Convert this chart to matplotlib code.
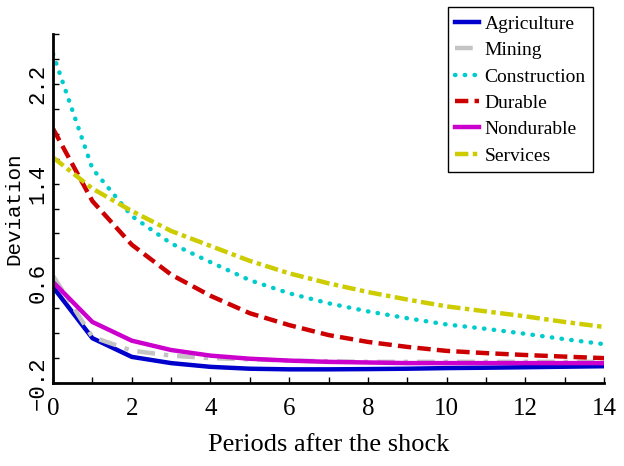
import numpy as np
import matplotlib
matplotlib.use('Agg')
import matplotlib.pyplot as plt
from matplotlib.ticker import MultipleLocator

# Impulse responses
periods = np.arange(15)
agriculture = [0.57, 0.16, 0.01, -0.04, -0.07, -0.085, -0.09, -0.09, -0.088, -0.085, -0.08, -0.077, -0.073, -0.069, -0.065]
mining = [0.66, 0.17, 0.06, 0.02, 0.0, -0.01, -0.02, -0.025, -0.03, -0.03, -0.03, -0.03, -0.03, -0.03, -0.03]
construction = [2.44, 1.52, 1.14, 0.92, 0.77, 0.625, 0.52, 0.44, 0.375, 0.32, 0.27, 0.235, 0.195, 0.152, 0.112]
durable = [1.84, 1.26, 0.91, 0.67, 0.50, 0.36, 0.265, 0.185, 0.13, 0.09, 0.058, 0.04, 0.025, 0.012, 0.0]
nondurable = [0.61, 0.29, 0.14, 0.065, 0.02, -0.005, -0.02, -0.03, -0.035, -0.04, -0.04, -0.04, -0.04, -0.04, -0.04]
services = [1.61, 1.36, 1.18, 1.02, 0.90, 0.78, 0.68, 0.60, 0.53, 0.47, 0.415, 0.375, 0.335, 0.29, 0.25]

xticks = [0, 2, 4, 6, 8, 10, 12, 14]
yticks = [-0.2, 0.6, 1.4, 2.2]
ytick_labels = ['\u22120.2', '0.6', '1.4', '2.2']

serif = 'Liberation Serif'
mono = 'Liberation Mono'

fig = plt.figure(figsize=(6.24, 4.66), dpi=100)
ax = fig.add_axes([0.085, 0.178, 0.883, 0.749])

lw = 3.2
ax.plot(periods, agriculture, color='#0000cc', lw=lw, label='Agriculture')
ax.plot(periods, mining, color='#c4c4c4', lw=lw, dashes=(4, 2, 1, 2), label='Mining')
ax.plot(periods, construction, color='#00cccc', lw=lw, dashes=(0.1, 2.1),
        dash_capstyle='round', label='Construction')
ax.plot(periods, durable, color='#cc0000', lw=lw, dashes=(3, 1.4), label='Durable')
ax.plot(periods, nondurable, color='#cc00cc', lw=lw, label='Nondurable')
ax.plot(periods, services, color='#cccc00', lw=lw, dashes=(3, 1, 1, 1), label='Services')

ax.set_xlim(0, 14)
ax.set_ylim(-0.2, 2.6)
ax.spines['top'].set_visible(False)
ax.spines['right'].set_visible(False)
ax.spines['left'].set_linewidth(2)
ax.spines['bottom'].set_linewidth(2)

ax.set_xticks(xticks)
ax.set_xticklabels([str(v) for v in xticks], fontsize=18, family=serif)
ax.xaxis.set_minor_locator(MultipleLocator(1))
ax.set_yticks(yticks)
ax.set_yticklabels(ytick_labels, fontsize=16, rotation=90, va='center', family=mono)
ax.yaxis.set_minor_locator(MultipleLocator(0.2))
ax.tick_params(which='both', direction='in', length=4, width=1)
ax.tick_params(axis='x', pad=11)
ax.tick_params(axis='y', pad=3)

ax.set_xlabel('Periods after the shock', fontsize=19, labelpad=10, family=serif)
ax.set_ylabel('Deviation', fontsize=15, labelpad=3, family=mono)

fig.legend(loc='upper right', bbox_to_anchor=(0.951, 0.984), fancybox=False,
           edgecolor='black', framealpha=1, prop={'family': serif, 'size': 14},
           handlelength=1.2, handletextpad=0.3, labelspacing=0.45, borderpad=0.4,
           borderaxespad=0)

fig.savefig('out.png', dpi=100)
